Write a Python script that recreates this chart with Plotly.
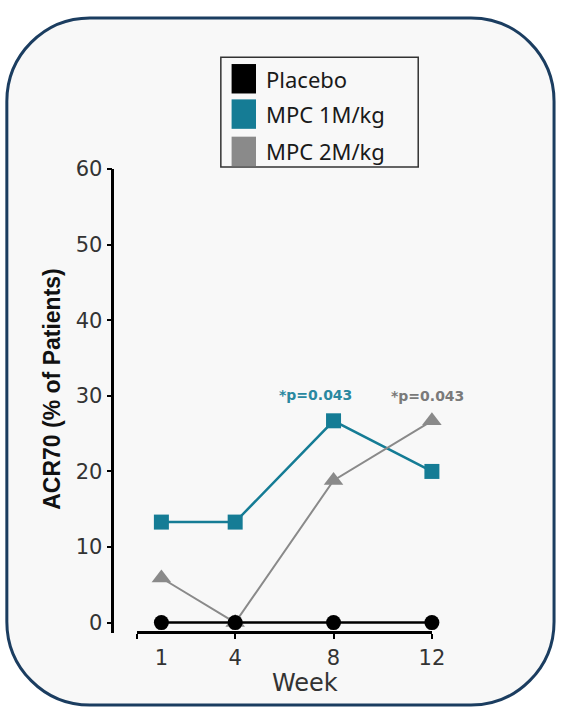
import plotly.graph_objects as go

# Canvas size in pixels
W, H = 569, 711

# Data
weeks = [1, 4, 8, 12]
placebo = [0, 0, 0, 0]
mpc_1m = [13.3, 13.3, 26.7, 20.0]
mpc_2m = [5.9, 0, 18.8, 26.7]
series_names = ["Placebo", "MPC 1M/kg", "MPC 2M/kg"]
p_text = "*p=0.043"
x_tick_marks = [0, 4, 8, 12]
y_ticks = [0, 10, 20, 30, 40, 50, 60]

BLACK = "#000000"
TEAL = "#157c95"
GRAY = "#8a8a8a"
series_colors = [BLACK, TEAL, GRAY]
FRAME = "#1b3d60"
PANEL = "#f8f8f8"
TEXT = "#333333"


def px(x):
    return x / W


def py(y):
    return 1 - y / H


fig = go.Figure()

# Draw order: teal, gray, then placebo on top
fig.add_trace(go.Scatter(
    x=weeks, y=mpc_1m, name=series_names[1], mode="lines+markers",
    line=dict(color=TEAL, width=2.5),
    marker=dict(symbol="square", size=15, color=TEAL),
    cliponaxis=False, showlegend=False,
))
fig.add_trace(go.Scatter(
    x=weeks, y=mpc_2m, name=series_names[2], mode="lines+markers",
    line=dict(color=GRAY, width=2),
    marker=dict(symbol="triangle-up", size=17, color=GRAY),
    cliponaxis=False, showlegend=False,
))
fig.add_trace(go.Scatter(
    x=weeks, y=placebo, name=series_names[0], mode="lines+markers",
    line=dict(color=BLACK, width=2.5),
    marker=dict(symbol="circle", size=15, color=BLACK),
    cliponaxis=False, showlegend=False,
))
# Invisible carrier so the week-label axis is drawn
fig.add_trace(go.Scatter(
    x=weeks, y=placebo, xaxis="x2", yaxis="y", mode="markers",
    marker=dict(opacity=0), hoverinfo="skip", showlegend=False,
))

# Significance labels
fig.add_annotation(x=weeks[2], y=mpc_1m[2], xref="x", yref="y", text=p_text,
                   showarrow=False, xshift=-18, yshift=26,
                   font=dict(family="DejaVu Sans", size=14, color="#2a88a0", weight="bold"))
fig.add_annotation(x=weeks[3], y=mpc_2m[3], xref="x", yref="y", text=p_text,
                   showarrow=False, xshift=-4, yshift=25,
                   font=dict(family="DejaVu Sans", size=14, color="#7a7a7a", weight="bold"))

# Axis titles
fig.add_annotation(x=px(312), y=py(684), xref="paper", yref="paper", text="Week",
                   showarrow=False, xanchor="center", yanchor="middle",
                   font=dict(family="DejaVu Sans", size=24, color=TEXT))
fig.add_annotation(x=px(53), y=py(384), xref="paper", yref="paper",
                   text="ACR70 (% of Patients)", textangle=-90,
                   showarrow=False, xanchor="center", yanchor="middle",
                   font=dict(family="Liberation Sans", size=23, color="#111111",
                             weight="bold"))

# Rounded panel frame
x0, x1, y0, y1, r = 7, 567, 6, 706, 85
k = 0.5523 * r
path = (
    f"M {px(x0 + r)},{py(y0)} L {px(x1 - r)},{py(y0)} "
    f"C {px(x1 - r + k)},{py(y0)} {px(x1)},{py(y0 + r - k)} {px(x1)},{py(y0 + r)} "
    f"L {px(x1)},{py(y1 - r)} "
    f"C {px(x1)},{py(y1 - r + k)} {px(x1 - r + k)},{py(y1)} {px(x1 - r)},{py(y1)} "
    f"L {px(x0 + r)},{py(y1)} "
    f"C {px(x0 + r - k)},{py(y1)} {px(x0)},{py(y1 - r + k)} {px(x0)},{py(y1 - r)} "
    f"L {px(x0)},{py(y0 + r)} "
    f"C {px(x0)},{py(y0 + r - k)} {px(x0 + r - k)},{py(y0)} {px(x0 + r)},{py(y0)} Z"
)
shapes = [dict(type="path", path=path, xref="paper", yref="paper",
               line=dict(color=FRAME, width=3), fillcolor=PANEL, layer="below")]

# Legend box with colour swatches
shapes.append(dict(type="rect", xref="paper", yref="paper",
                   x0=px(226), x1=px(428), y0=py(158), y1=py(46),
                   line=dict(color=TEXT, width=1.5), fillcolor=PANEL, layer="below"))
row_top = [53, 89, 127]
row_h = 30
for name, color, top in zip(series_names, series_colors, row_top):
    shapes.append(dict(type="rect", xref="paper", yref="paper",
                       x0=px(237), x1=px(262), y0=py(top + row_h), y1=py(top),
                       line=dict(width=0), fillcolor=color))
    fig.add_annotation(x=px(270), y=py(top + row_h / 2), xref="paper", yref="paper",
                       text=name, showarrow=False, xanchor="left", yanchor="middle",
                       font=dict(family="Noto Sans", size=22, color="#1a1a1a"))

tick_font = dict(family="DejaVu Sans", size=21, color=TEXT)
x_domain = [px(140), px(442)]
x_range = [0, 12]

fig.update_layout(
    width=W, height=H, autosize=False,
    margin=dict(l=0, r=0, t=0, b=0),
    paper_bgcolor="white", plot_bgcolor="rgba(0,0,0,0)",
    shapes=shapes,
    # Axis line with tick marks every 4 weeks
    xaxis=dict(
        domain=x_domain, range=x_range,
        tickvals=x_tick_marks, showticklabels=False,
        ticks="outside", ticklen=5, tickwidth=2, tickcolor=BLACK,
        showline=True, linecolor=BLACK, linewidth=2.5,
        showgrid=False, zeroline=False,
        anchor="free", position=py(632),
    ),
    # Week labels at the visit weeks
    xaxis2=dict(
        domain=x_domain, range=x_range, overlaying="x",
        tickvals=weeks, ticktext=[str(w) for w in weeks],
        ticks="", showline=False, showgrid=False, zeroline=False,
        anchor="free", position=py(632), side="bottom",
        ticklabelstandoff=11,
        tickfont=tick_font,
    ),
    yaxis=dict(
        domain=[py(633), py(160)], range=[-1.43, 60],
        tickvals=y_ticks,
        ticks="outside", ticklen=5, tickwidth=2, tickcolor=BLACK,
        showline=True, linecolor=BLACK, linewidth=2.5,
        showgrid=False, zeroline=False,
        anchor="free", position=px(115),
        tickfont=tick_font,
    ),
)

fig.write_html("out.html")
